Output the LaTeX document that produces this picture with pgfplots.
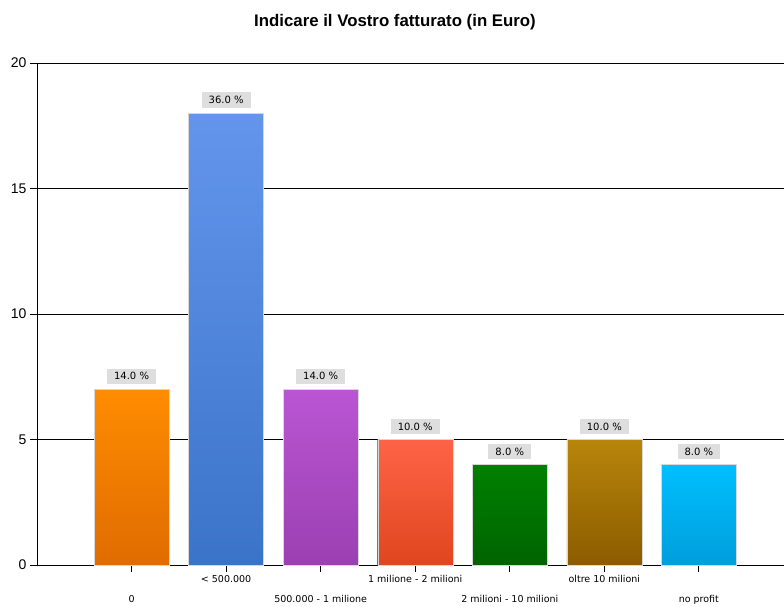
\documentclass[border=0pt]{standalone}
\usepackage{pgfplots}
\pgfplotsset{compat=1.18}
\usepackage{fontspec}
\setmainfont{Liberation Sans}
\newfontfamily\labelfont{DejaVu Sans}

\definecolor{boxc}{RGB}{222,222,222}
\definecolor{edgec}{RGB}{215,215,215}
\definecolor{orT}{RGB}{255,140,0}   \definecolor{orB}{RGB}{224,108,0}
\definecolor{blT}{RGB}{100,149,237} \definecolor{blB}{RGB}{58,116,200}
\definecolor{puT}{RGB}{186,85,211}  \definecolor{puB}{RGB}{155,64,178}
\definecolor{reT}{RGB}{255,99,71}   \definecolor{reB}{RGB}{224,70,30}
\definecolor{grT}{RGB}{0,128,0}     \definecolor{grB}{RGB}{0,100,0}
\definecolor{brT}{RGB}{184,134,11}  \definecolor{brB}{RGB}{139,92,0}
\definecolor{cyT}{RGB}{0,191,255}   \definecolor{cyB}{RGB}{0,158,220}

\pgfplotsset{
  bar/.style n args={2}{ybar, bar width=75pt, bar shift=0pt, draw=edgec,
    top color=#1, bottom color=#2},
}

\begin{document}
\begin{tikzpicture}
\useasboundingbox (0,0) rectangle (784pt,606pt);
\node[font=\bfseries\fontsize{16.8}{19}\selectfont] at (395pt,584pt)
  {Indicare il Vostro fatturato (in Euro)};
\begin{axis}[
  at={(37pt,41pt)}, anchor=south west,
  scale only axis, width=747pt, height=502pt,
  xmin=-1, xmax=6.9, ymin=0, ymax=20,
  axis x line*=bottom, axis y line*=left,
  axis line style={black, line width=0.8pt},
  ytick={0,5,10,15,20},
  tick align=outside, major tick length=7pt,
  tick style={black, line width=0.8pt},
  ymajorgrids, grid style={black, line width=0.8pt},
  /pgf/number format/assume math mode=true,
  y tick label style={font=\fontsize{14}{16}\selectfont},
  xtick={1,3,5},
  xticklabels={< 500.000, 1 milione - 2 milioni, oltre 10 milioni},
  x tick label style={font=\labelfont\fontsize{9.5}{11}\selectfont},
  extra x ticks={0,2,4,6},
  extra x tick labels={0, 500.000 - 1 milione, 2 milioni - 10 milioni, no profit},
  extra x tick style={grid=none, xticklabel style={yshift=-20pt}},
  clip=false,
]
\addplot[bar={orT}{orB}] coordinates {(0,7)};
\addplot[bar={blT}{blB}] coordinates {(1,18)};
\addplot[bar={puT}{puB}] coordinates {(2,7)};
\addplot[bar={reT}{reB}] coordinates {(3,5)};
\addplot[bar={grT}{grB}] coordinates {(4,4)};
\addplot[bar={brT}{brB}] coordinates {(5,5)};
\addplot[bar={cyT}{cyB}] coordinates {(6,4)};
\addplot[draw=none, mark=none, nodes near coords, point meta=explicit symbolic,
  every node near coord/.style={anchor=south, yshift=5pt, fill=boxc,
    font=\labelfont\fontsize{10}{12}\selectfont, text=black,
    inner xsep=7pt, inner ysep=4pt}]
  coordinates {(0,7) [14.0 \%] (1,18) [36.0 \%] (2,7) [14.0 \%] (3,5) [10.0 \%]
               (4,4) [8.0 \%] (5,5) [10.0 \%] (6,4) [8.0 \%]};
\end{axis}
\end{tikzpicture}
\end{document}
